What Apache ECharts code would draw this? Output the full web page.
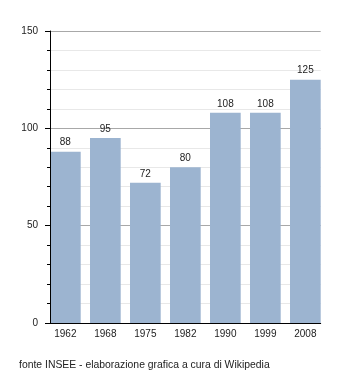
<!DOCTYPE html>
<html>
<head>
<meta charset="utf-8">
<script src="https://cdn.jsdelivr.net/npm/echarts@6/dist/echarts.min.js"></script>
<style>
  html, body { margin: 0; padding: 0; background: #fff; }
  #chart { width: 350px; height: 373px; }
</style>
</head>
<body>
<div id="chart"></div>
<script>
// Census years and resident population
const years = ['1962', '1968', '1975', '1982', '1990', '1999', '2008'];
const population = [88, 95, 72, 80, 108, 108, 125];
const yTicks = [0, 50, 100, 150];
const sourceNote = 'fonte INSEE - elaborazione grafica a cura di Wikipedia';

const FONT = '"Liberation Sans", Arial, Helvetica, sans-serif';
const TEXT = '#222';
const BAR = '#9cb4d0';

const chart = echarts.init(document.getElementById('chart'), null, { renderer: 'canvas' });

const yMin = yTicks[0];
const yMax = yTicks[yTicks.length - 1];
const yStep = yTicks[1] - yTicks[0];

chart.setOption({
  animation: false,
  backgroundColor: '#fff',
  title: {
    text: sourceNote,
    left: 14,
    top: 355,
    textStyle: { fontFamily: FONT, fontSize: 10.4, fontWeight: 'normal', color: TEXT }
  },
  grid: [
    // frame: axis lines, ticks and gridlines
    { left: 50, top: 31, width: 270.7, height: 292 },
    // bars: bands of 40px so bars sit flush against both ends of the frame
    { left: 45.35, top: 31, width: 280, height: 292 }
  ],
  xAxis: [
    {
      gridIndex: 0, type: 'value', min: 0, max: 1, z: 5, position: 'bottom',
      axisLine: { show: true, lineStyle: { color: '#000', width: 1 } },
      axisTick: { show: false }, axisLabel: { show: false }, splitLine: { show: false }
    },
    {
      gridIndex: 1, type: 'category', data: years, position: 'bottom',
      axisLine: { show: false }, axisTick: { show: false },
      axisLabel: { margin: 6, fontFamily: FONT, fontSize: 10, color: TEXT }
    }
  ],
  yAxis: [
    {
      // gridlines behind the bars
      gridIndex: 0, type: 'value', min: yMin, max: yMax, interval: yStep, z: 0,
      position: 'left',
      axisLine: { show: false }, axisTick: { show: false }, axisLabel: { show: false },
      splitLine: { show: true, lineStyle: { color: '#a8a8a8', width: 1 } },
      minorTick: { show: false, splitNumber: 5 },
      minorSplitLine: { show: true, lineStyle: { color: '#e8e8e8', width: 1 } }
    },
    {
      gridIndex: 1, type: 'value', min: yMin, max: yMax, show: false, position: 'left'
    },
    {
      // axis line, ticks and labels above the bars
      gridIndex: 0, type: 'value', min: yMin, max: yMax, interval: yStep, z: 5,
      position: 'left', offset: 0,
      axisLine: { show: true, onZero: false, lineStyle: { color: '#000', width: 1 } },
      axisTick: { show: true, length: 5, lineStyle: { color: '#000' } },
      minorTick: { show: true, splitNumber: 5, length: 3, lineStyle: { color: '#000' } },
      splitLine: { show: false },
      axisLabel: { margin: 12, fontFamily: FONT, fontSize: 10, color: TEXT }
    }
  ],
  series: [{
    type: 'bar',
    xAxisIndex: 1,
    yAxisIndex: 1,
    data: population,
    barWidth: 30.7,
    itemStyle: { color: BAR },
    label: {
      show: true, position: 'top', distance: 4,
      fontFamily: FONT, fontSize: 10, color: TEXT
    }
  }]
});
</script>
</body>
</html>
